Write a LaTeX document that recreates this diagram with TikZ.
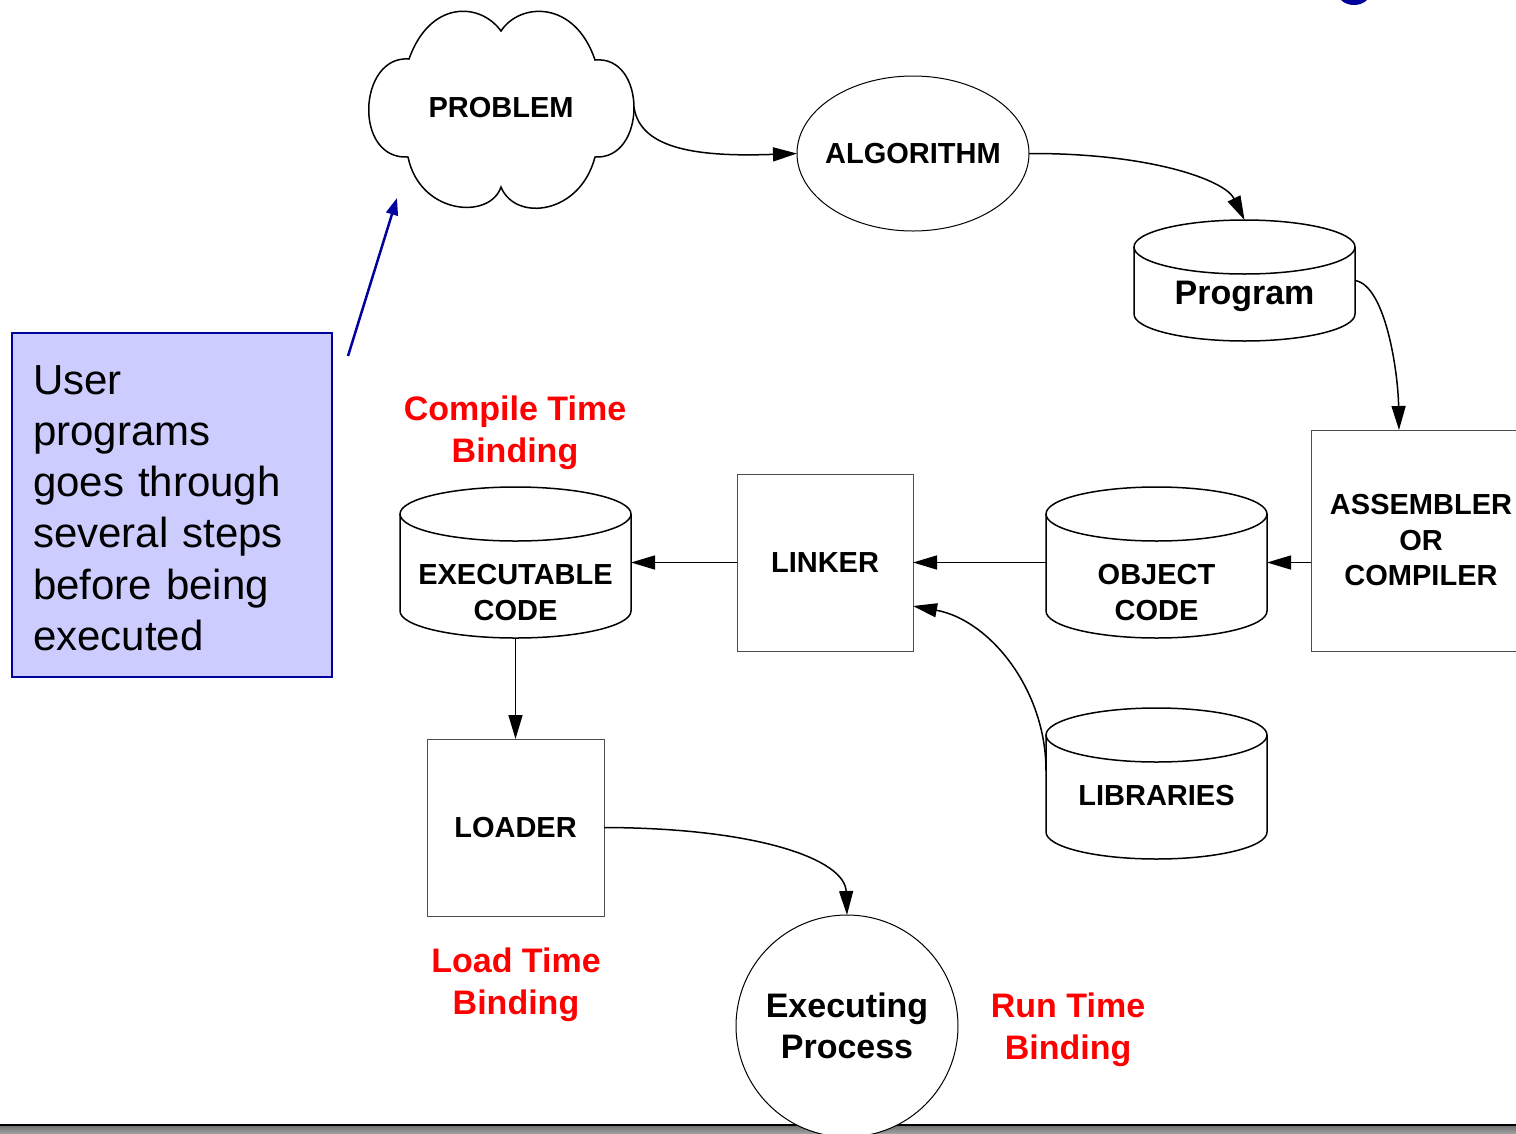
\documentclass[tikz,border=0pt]{standalone}
\usepackage{fontspec}
\setmainfont{Liberation Sans}
\usetikzlibrary{shapes.geometric,arrows.meta,calc}
\definecolor{darkblue}{RGB}{0,0,156}
\definecolor{boxfill}{RGB}{204,204,255}
\definecolor{lblred}{RGB}{255,0,0}
\newcommand\cylout[3]{%
  \draw[shapeline] ([yshift=-#3 pt]#1.north west) -- ([yshift=#3 pt]#1.south west)
    arc[start angle=180,end angle=360,x radius=#2,y radius=#3] -- ([yshift=-#3 pt]#1.north east);
  \draw[shapeline] ([yshift=-#3 pt]#1.north) ellipse[x radius=#2, y radius=#3];}
\begin{document}
\begin{tikzpicture}[x=1pt,y=1pt,
  shapeline/.style={line width=1.5pt,black},
  thinbox/.style={draw=black!70,line width=1pt,rectangle,inner sep=0pt,outer sep=0pt},
  cylnode/.style={rectangle,inner sep=0pt,outer sep=0pt},
  bl/.style={font=\fontsize{29}{35.5}\selectfont\bfseries,align=center},
  big/.style={font=\fontsize{34}{41}\selectfont\bfseries,align=center},
  redlbl/.style={font=\fontsize{34}{42}\selectfont\bfseries,align=center,text=lblred},
  arr/.style={line width=1.5pt,-{Triangle[length=24pt,width=14pt]}},
]
\useasboundingbox (0,0) rectangle (1516,-1133);
\clip (0,0) rectangle (1516,-1133);

% title fragment at top
\fill[darkblue] (1354,9) ellipse[x radius=17, y radius=14];

% bottom bar
\shade[top color=black!55,bottom color=black!38] (0,-1126) rectangle (1516,-1133);
\fill[black] (0,-1123.5) rectangle (1516,-1126);

% cloud
\draw[shapeline,fill=white] (501,-31)
  .. controls (480,-2) and (430,0) .. (409,-59)
  .. controls (358,-55) and (353,-160) .. (408,-157)
  .. controls (420,-215) and (490,-220) .. (501,-187)
  .. controls (515,-222) and (580,-215) .. (595,-157)
  .. controls (647,-160) and (647,-55) .. (595,-60)
  .. controls (575,0) and (520,-2) .. (501,-31) -- cycle;
\node[bl] (problem) at (501,-108) {PROBLEM};
\coordinate (cloudR) at (634,-107);

% algorithm
\node[draw,line width=1pt,ellipse,minimum width=232pt,minimum height=155pt,inner sep=0pt,outer sep=0pt,
  label={[bl]center:ALGORITHM}] (alg) at (913,-153.5) {};

% program cylinder
\node[cylnode,minimum width=221pt,minimum height=121pt,
  label={[big,yshift=-16pt]center:Program}] (prog) at (1244.5,-280.5) {};
\cylout{prog}{110.5}{27}

% assembler
\node[thinbox,minimum width=220pt,minimum height=221pt,bl] (asm) at (1421,-540.5) {ASSEMBLER\\OR\\COMPILER};

% object code
\node[cylnode,minimum width=221pt,minimum height=151pt,
  label={[bl,yshift=-30pt]center:OBJECT\\CODE}] (obj) at (1156.5,-562.5) {};
\cylout{obj}{110.5}{27}

% linker
\node[thinbox,minimum width=176pt,minimum height=177pt,bl] (link) at (825,-562.5) {LINKER};

% libraries
\node[cylnode,minimum width=221pt,minimum height=151pt,
  label={[bl,yshift=-12.5pt]center:LIBRARIES}] (lib) at (1156.5,-783.5) {};
\cylout{lib}{110.5}{27}

% executable code
\node[cylnode,minimum width=231pt,minimum height=151pt,
  label={[bl,yshift=-30pt]center:EXECUTABLE\\CODE}] (exe) at (515.5,-562.5) {};
\cylout{exe}{115.5}{27}

% loader
\node[thinbox,minimum width=177pt,minimum height=177pt,bl] (loader) at (515.5,-827.5) {LOADER};

% executing process
\node[draw,line width=1pt,circle,fill=white,minimum size=222pt,inner sep=0pt,outer sep=0pt,big] (proc) at (847,-1026) {Executing\\Process};

% red labels
\node[redlbl] (ctb) at (515,-432.5) {Compile Time\\Binding};
\node[redlbl] (ltb) at (516,-984.5) {Load Time\\Binding};
\node[redlbl] (rtb) at (1068,-1029.5) {Run Time\\Binding};

% user box
\node[draw=darkblue,line width=2pt,fill=boxfill,rectangle,minimum width=320pt,minimum height=344pt,
  inner sep=0pt,
  label={[text width=278pt,align=left,inner sep=0pt,yshift=-3pt,
    font=\fontsize{42}{51.3}\selectfont]center:User\\programs\\goes through\\several steps\\before being\\executed}] (user) at (172,-505) {};
\coordinate (uarr) at (348,-356);
\coordinate (cloudBL) at (397,-198);
\draw[darkblue,line width=2.5pt,-{Triangle[length=17pt,width=12pt]}] (uarr) -- (cloudBL);

% connectors
\draw[arr] (cloudR) .. controls (640,-150) and (700,-157) .. (alg.west);
\draw[arr] (alg.east) .. controls (1150,-153) and (1225,-180) .. (prog.north);
\draw[arr] (prog.east) .. controls (1385,-285) and (1398,-370) .. ($(asm.north west)+(88,0)$);
\draw[arr] (asm.west |- obj.west) -- (obj.east);
\draw[arr] (obj.west) -- (link.east);
\draw[arr] ([yshift=13pt]lib.west) .. controls (1046,-690) and (990,-620) .. ([yshift=-43.5pt]link.east);
\draw[arr] (link.west) -- (exe.east);
\draw[arr] (exe.south) -- (loader.north);
\draw[arr] (loader.east) .. controls (760,-828) and (845,-860) .. (proc.north);
\end{tikzpicture}
\end{document}
